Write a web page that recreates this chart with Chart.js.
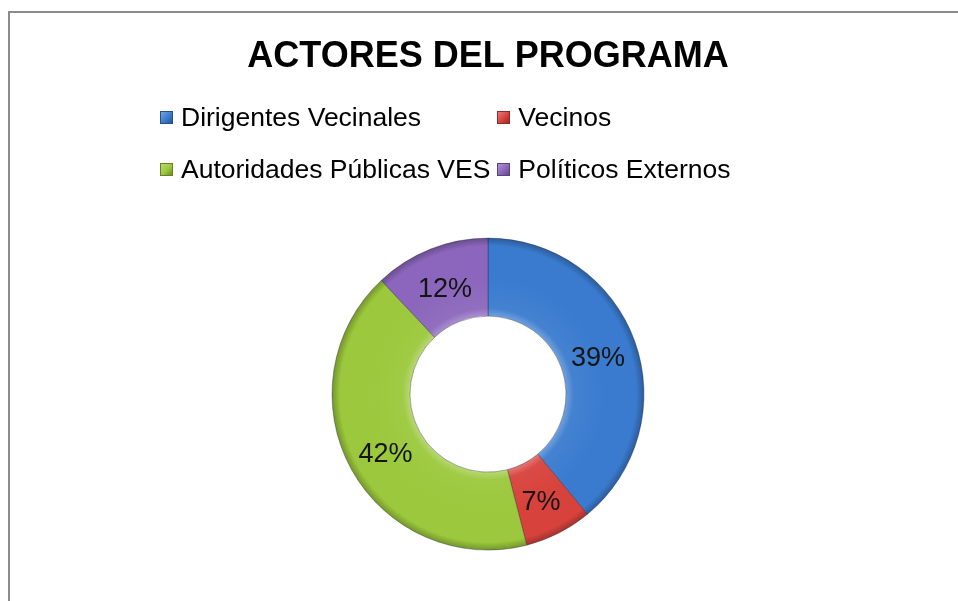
<!DOCTYPE html>
<html lang="es">
<head>
<meta charset="utf-8">
<title>Actores del programa</title>
<script src="https://cdn.jsdelivr.net/npm/chart.js@4.4.0/dist/chart.umd.min.js"></script>
<style>
    html, body { margin: 0; background: #fff; }
    body { position: relative; width: 958px; height: 601px; overflow: hidden; font-family: "Liberation Sans", Arial, sans-serif; }
    #actoresChart { position: absolute; left: 0; top: 0; }
    .frame { position: absolute; left: 8px; top: 11px; width: 990px; height: 640px; border: 2px solid #8c8c8c; pointer-events: none; }
    .legend { position: absolute; left: 160px; top: 102px; display: grid; grid-template-columns: auto auto; column-gap: 7px; row-gap: 22px; }
    .legend-item { display: flex; align-items: center; height: 30px; font-size: 26.5px; color: #000; white-space: nowrap; }
    .legend-box { width: 13px; height: 13px; margin-right: 8px; box-sizing: border-box; }
</style>
</head>
<body>
<canvas id="actoresChart" width="958" height="601"></canvas>
<div class="legend" id="legend"></div>
<div class="frame"></div>

<script>
const chartTitle = 'ACTORES DEL PROGRAMA';
const categories = ['Dirigentes Vecinales', 'Vecinos', 'Autoridades Públicas VES', 'Políticos Externos'];
const shares = [39, 7, 42, 12];
const sliceColors = ['#3a7bcf', '#d8423c', '#9bc83c', '#8b66bc'];

// mezcla un color hex con blanco (amt > 0) o negro (amt < 0)
function shade(hex, amt) {
    const n = parseInt(hex.slice(1), 16);
    const mix = (c) => Math.round(amt >= 0 ? c + (255 - c) * amt : c * (1 + amt));
    const r = mix((n >> 16) & 255), g = mix((n >> 8) & 255), b = mix(n & 255);
    return `rgb(${r},${g},${b})`;
}

// relleno con efecto bisel: borde interior claro, borde exterior oscuro
function bevelFill(context) {
    const chart = context.chart;
    const base = sliceColors[context.dataIndex];
    const area = chart.chartArea;
    const ctrl = chart.getDatasetMeta(0).controller;
    if (!area || !ctrl || !ctrl.outerRadius) return base;
    const cx = (area.left + area.right) / 2;
    const cy = (area.top + area.bottom) / 2;
    const g = chart.ctx.createRadialGradient(cx, cy, ctrl.innerRadius, cx, cy, ctrl.outerRadius);
    g.addColorStop(0, shade(base, 0.28));
    g.addColorStop(0.1, shade(base, 0.05));
    g.addColorStop(0.5, base);
    g.addColorStop(0.9, base);
    g.addColorStop(1, shade(base, -0.25));
    return g;
}

const percentLabels = {
    id: 'percentLabels',
    afterDatasetsDraw(chart) {
        const { ctx } = chart;
        const meta = chart.getDatasetMeta(0);
        ctx.save();
        ctx.font = '27px "Liberation Sans", Arial, sans-serif';
        ctx.fillStyle = '#141414';
        ctx.textAlign = 'center';
        ctx.textBaseline = 'middle';
        meta.data.forEach((arc, i) => {
            const pos = arc.tooltipPosition();
            ctx.fillText(`${shares[i]}%`, pos.x, pos.y + 4);
        });
        ctx.restore();
    }
};

new Chart(document.getElementById('actoresChart'), {
    type: 'doughnut',
    data: {
        labels: categories,
        datasets: [{
            data: shares,
            backgroundColor: bevelFill,
            borderColor: 'rgba(30,30,50,0.35)',
            borderWidth: 1,
            radius: 156,
            cutout: '50%'
        }]
    },
    options: {
        responsive: false,
        animation: false,
        devicePixelRatio: 1,
        layout: { padding: { left: 18, right: 0, top: 0, bottom: 0 } },
        plugins: {
            legend: { display: false },
            tooltip: { enabled: false },
            title: {
                display: true,
                text: chartTitle,
                color: '#000',
                font: { family: '"Liberation Sans", Arial, sans-serif', size: 36, weight: 'bold', lineHeight: 1.2 },
                padding: { top: 35, bottom: 109 }
            }
        }
    },
    plugins: [percentLabels]
});

// leyenda en dos columnas como en el original
const legendEl = document.getElementById('legend');
categories.forEach((name, i) => {
    const c = sliceColors[i];
    legendEl.innerHTML += `<div class="legend-item"><span class="legend-box" style="background: linear-gradient(135deg, ${shade(c, 0.3)}, ${c} 55%, ${shade(c, -0.3)}); border: 1px solid ${shade(c, -0.35)};"></span>${name}</div>`;
});
</script>
</body>
</html>
